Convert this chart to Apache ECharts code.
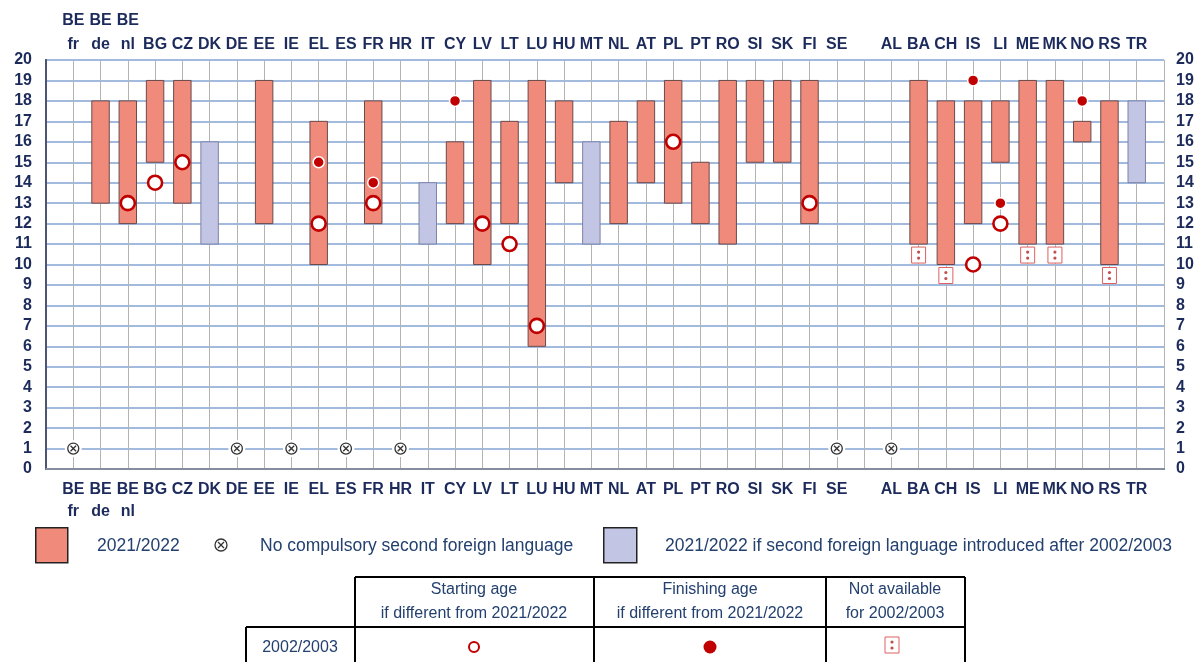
<!DOCTYPE html>
<html>
<head>
<meta charset="utf-8">
<script src="https://cdn.jsdelivr.net/npm/echarts@6/dist/echarts.min.js"></script>
<style>
  html, body { margin: 0; padding: 0; background: #fff; }
  #main { width: 1201px; height: 662px; }
</style>
</head>
<body>
<div id="main"></div>
<script>
// countries, '' = gap between EU and non-EU
const countries = ['BE\nfr', 'BE\nde', 'BE\nnl', 'BG', 'CZ', 'DK', 'DE', 'EE', 'IE', 'EL', 'ES', 'FR', 'HR', 'IT',
  'CY', 'LV', 'LT', 'LU', 'HU', 'MT', 'NL', 'AT', 'PL', 'PT', 'RO', 'SI', 'SK', 'FI', 'SE', '',
  'AL', 'BA', 'CH', 'IS', 'LI', 'ME', 'MK', 'NO', 'RS', 'TR'];
// 2021/2022 starting / finishing age
const startAge = [null, 13, 12, 15, 13, 11, null, 12, null, 10, null, 12, null, 11,
  12, 10, 12, 6, 14, 11, 12, 14, 13, 12, 11, 15, 15, 12, null, null,
  null, 11, 10, 12, 15, 11, 11, 16, 10, 14];
const endAge = [null, 18, 18, 19, 19, 16, null, 19, null, 17, null, 18, null, 14,
  16, 19, 17, 19, 18, 16, 17, 18, 19, 15, 19, 19, 19, 19, null, null,
  null, 19, 18, 18, 18, 19, 19, 17, 18, 18];
// 1 = second foreign language introduced after 2002/2003
const introducedLater = [0, 0, 0, 0, 0, 1, 0, 0, 0, 0, 0, 0, 0, 1,
  0, 0, 0, 0, 0, 1, 0, 0, 0, 0, 0, 0, 0, 0, 0, 0,
  0, 0, 0, 0, 0, 0, 0, 0, 0, 1];
// 1 = no compulsory second foreign language
const noCompulsory = [1, 0, 0, 0, 0, 0, 1, 0, 1, 0, 1, 0, 1, 0,
  0, 0, 0, 0, 0, 0, 0, 0, 0, 0, 0, 0, 0, 0, 1, 0,
  1, 0, 0, 0, 0, 0, 0, 0, 0, 0];
// 2002/2003 starting age if different
const start2003 = [null, null, 13, 14, 15, null, null, null, null, 12, null, 13, null, null,
  null, 12, 11, 7, null, null, null, null, 16, null, null, null, null, 13, null, null,
  null, null, null, 10, 12, null, null, null, null, null];
// 2002/2003 finishing age if different
const end2003 = [null, null, null, null, null, null, null, null, null, 15, null, 14, null, null,
  18, null, null, null, null, null, null, null, null, null, null, null, null, null, null, null,
  null, null, null, 19, 13, null, null, 18, null, null];
// 1 = not available for 2002/2003
const notAvailable2003 = [0, 0, 0, 0, 0, 0, 0, 0, 0, 0, 0, 0, 0, 0,
  0, 0, 0, 0, 0, 0, 0, 0, 0, 0, 0, 0, 0, 0, 0, 0,
  0, 1, 1, 0, 0, 1, 1, 0, 1, 0];
const ageTicks = [0, 1, 2, 3, 4, 5, 6, 7, 8, 9, 10, 11, 12, 13, 14, 15, 16, 17, 18, 19, 20];

const FONT = "'Liberation Sans Narrow', 'Liberation Sans', Arial, sans-serif";
const NAVY = '#1c2b5c';
const TXT = '#23406f';
const RED = '#c00000';
const SALMON = '#f08b7b';
const LAVENDER = '#c3c5e5';

const barData = [], naData = [], noneData = [], openData = [], dotData = [];
countries.forEach(function (c, i) {
  const x = i + 1;
  if (startAge[i] != null) barData.push([x, startAge[i], endAge[i], introducedLater[i]]);
  if (notAvailable2003[i]) naData.push([x, startAge[i]]);
  if (noCompulsory[i]) noneData.push([x, 1]);
  if (start2003[i] != null) openData.push([x, start2003[i]]);
  if (end2003[i] != null) dotData.push([x, end2003[i]]);
});

function xLabel(v) {
  return countries[v - 1] || '';
}

var chart = echarts.init(document.getElementById('main'));

function crossIcon(cx, cy, r, bg) {
  const d = r * 0.5;
  return [
    { type: 'circle', shape: { cx: cx, cy: cy, r: r + 3 }, style: { fill: bg } },
    { type: 'circle', shape: { cx: cx, cy: cy, r: r }, style: { fill: 'none', stroke: '#333', lineWidth: 1.3 } },
    { type: 'line', shape: { x1: cx - d, y1: cy - d, x2: cx + d, y2: cy + d }, style: { stroke: '#333', lineWidth: 1.3 } },
    { type: 'line', shape: { x1: cx - d, y1: cy + d, x2: cx + d, y2: cy - d }, style: { stroke: '#333', lineWidth: 1.3 } }
  ];
}

function naIcon(x, y) {
  // small box with two dots, top-left at x,y
  return [
    { type: 'rect', shape: { x: x, y: y, width: 14, height: 16 }, style: { fill: '#fff', stroke: '#e06060', lineWidth: 1 } },
    { type: 'circle', shape: { cx: x + 7, cy: y + 5, r: 1.6 }, style: { fill: '#c0504d' } },
    { type: 'circle', shape: { cx: x + 7, cy: y + 11, r: 1.6 }, style: { fill: '#c0504d' } }
  ];
}

const tableFont = '16px ' + FONT;
function hline(x1, y, x2) {
  return { type: 'line', shape: { x1: x1, y1: y, x2: x2, y2: y }, style: { stroke: '#000', lineWidth: 2 } };
}
function vline(x, y1, y2) {
  return { type: 'line', shape: { x1: x, y1: y1, x2: x, y2: y2 }, style: { stroke: '#000', lineWidth: 2 } };
}
function cellText(x, y, t) {
  return { type: 'text', x: x, y: y, style: { text: t, font: tableFont, fill: TXT, align: 'center', verticalAlign: 'middle', lineHeight: 24 } };
}

var option = {
  backgroundColor: '#fff',
  animation: false,
  grid: { left: 46, right: 37, top: 60, bottom: 193 },
  xAxis: [{
    type: 'value', position: 'bottom', min: 0, max: 41, interval: 1,
    axisLine: { show: true, lineStyle: { color: '#4d5670', width: 2 } },
    axisTick: { show: false },
    splitLine: { show: true, lineStyle: { color: '#b3b3b3', width: 1 } },
    axisLabel: {
      formatter: xLabel, margin: 10, color: NAVY, fontFamily: FONT, fontWeight: 'bold',
      fontSize: 16, lineHeight: 22, align: 'center'
    }
  }, {
    type: 'value', position: 'top', min: 0, max: 41, interval: 1,
    axisLine: { show: true, lineStyle: { color: '#9aa0b0', width: 1.5 } },
    axisTick: { show: false },
    splitLine: { show: false },
    axisLabel: {
      formatter: xLabel, margin: 3, color: NAVY, fontFamily: FONT, fontWeight: 'bold',
      fontSize: 16, lineHeight: 24, align: 'center'
    }
  }],
  yAxis: [{
    type: 'value', position: 'left', min: 0, max: 20, interval: 1,
    axisLine: { show: true, lineStyle: { color: '#4d5670', width: 2 } },
    axisTick: { show: false },
    splitLine: { show: true, lineStyle: { color: '#82a3d2', width: 1.5 } },
    axisLabel: {
      margin: 14, color: NAVY, fontFamily: FONT, fontWeight: 'bold', fontSize: 16,
      formatter: function (v) { return ageTicks.indexOf(v) >= 0 ? String(v) : ''; }
    }
  }, {
    type: 'value', position: 'right', min: 0, max: 20, interval: 1,
    axisLine: { show: true, lineStyle: { color: '#4d5670', width: 2 } },
    axisTick: { show: false },
    splitLine: { show: false },
    axisLabel: {
      margin: 12, color: NAVY, fontFamily: FONT, fontWeight: 'bold', fontSize: 16,
      formatter: function (v) { return ageTicks.indexOf(v) >= 0 ? String(v) : ''; }
    }
  }],
  series: [{
    name: 'bars',
    type: 'custom',
    xAxisIndex: 0, yAxisIndex: 0,
    z: 2,
    encode: { x: 0, y: [1, 2] },
    data: barData,
    renderItem: function (params, api) {
      const x = api.value(0);
      const top = api.coord([x, api.value(2)]);
      const bot = api.coord([x, api.value(1)]);
      const w = api.size([1, 0])[0] * 0.64;
      const later = api.value(3) === 1;
      return {
        type: 'rect',
        shape: { x: top[0] - w / 2, y: top[1], width: w, height: bot[1] - top[1] },
        style: {
          fill: later ? LAVENDER : SALMON,
          stroke: later ? '#7d82a8' : '#6b4a4a',
          lineWidth: 1
        }
      };
    }
  }, {
    name: 'not available',
    type: 'custom',
    xAxisIndex: 0, yAxisIndex: 0,
    z: 3,
    encode: { x: 0, y: 1 },
    data: naData,
    renderItem: function (params, api) {
      const p = api.coord([api.value(0), api.value(1)]);
      return { type: 'group', children: naIcon(p[0] - 7, p[1] + 3) };
    }
  }, {
    name: 'no compulsory',
    type: 'custom',
    xAxisIndex: 0, yAxisIndex: 0,
    z: 3,
    encode: { x: 0, y: 1 },
    data: noneData,
    renderItem: function (params, api) {
      const p = api.coord([api.value(0), api.value(1)]);
      return { type: 'group', children: crossIcon(p[0], p[1], 5.5, '#fff') };
    }
  }, {
    name: 'start 2002/2003',
    type: 'scatter',
    z: 4,
    symbol: 'circle',
    symbolSize: 14,
    itemStyle: { color: '#fff', borderColor: RED, borderWidth: 2.6, opacity: 1 },
    data: openData
  }, {
    name: 'end 2002/2003',
    type: 'scatter',
    z: 5,
    symbol: 'circle',
    symbolSize: 11,
    itemStyle: { color: RED, borderColor: '#fff', borderWidth: 1.5, opacity: 1 },
    data: dotData
  }],
  graphic: [
    // legend row
    { type: 'rect', left: 35, top: 527, shape: { width: 32, height: 35 }, style: { fill: SALMON, stroke: '#222', lineWidth: 1.5 } },
    { type: 'text', left: 97, top: 537, style: { text: '2021/2022', font: '17.5px ' + FONT, fill: TXT } },
    { type: 'group', left: 212, top: 536, children: crossIcon(8, 8, 6, 'rgba(0,0,0,0)') },
    { type: 'text', left: 260, top: 537, style: { text: 'No compulsory second foreign language', font: '17.5px ' + FONT, fill: TXT } },
    { type: 'rect', left: 603, top: 527, shape: { width: 33, height: 35 }, style: { fill: LAVENDER, stroke: '#222', lineWidth: 1.5 } },
    { type: 'text', left: 665, top: 537, style: { text: '2021/2022 if second foreign language introduced after 2002/2003', font: '17.5px ' + FONT, fill: TXT } },
    // table
    {
      type: 'group', silent: true,
      children: [
        hline(355, 577, 965),
        hline(246, 627, 965),
        vline(246, 627, 662),
        vline(355, 577, 662),
        vline(594, 577, 662),
        vline(826, 577, 662),
        vline(965, 577, 662),
        cellText(474, 602, 'Starting age\nif different from 2021/2022'),
        cellText(710, 602, 'Finishing age\nif different from 2021/2022'),
        cellText(895, 602, 'Not available\nfor 2002/2003'),
        cellText(300, 648, '2002/2003'),
        { type: 'circle', shape: { cx: 474, cy: 647, r: 5 }, style: { fill: '#fff', stroke: RED, lineWidth: 2 } },
        { type: 'circle', shape: { cx: 710, cy: 647, r: 6.5 }, style: { fill: RED } }
      ].concat(naIcon(885, 637))
    }
  ]
};

chart.setOption(option);
</script>
</body>
</html>
